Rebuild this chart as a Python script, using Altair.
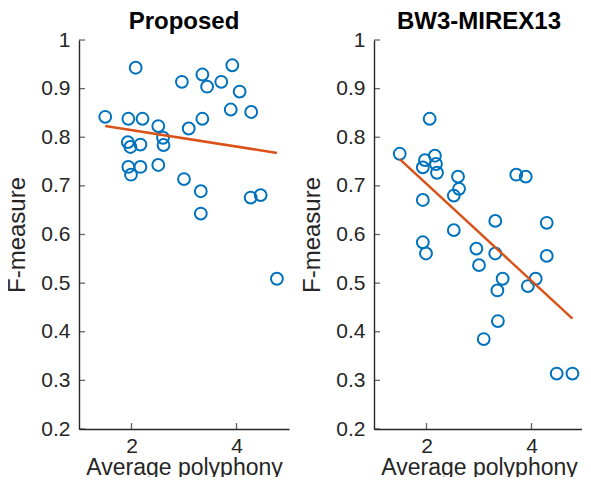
import altair as alt
import pandas as pd

# Proposed panel
prop_x = [1.50, 2.08, 1.94, 2.21, 2.51, 2.60, 2.61, 1.93, 1.98, 2.17,
          1.94, 1.99, 2.17, 2.51, 2.96, 3.09, 3.35, 3.35, 3.44, 3.71,
          3.92, 4.06, 3.89, 4.28, 3.00, 3.32, 3.32, 4.27, 4.46, 4.77]
prop_y = [0.842, 0.943, 0.838, 0.838, 0.823, 0.799, 0.784, 0.790, 0.780, 0.785,
          0.739, 0.723, 0.739, 0.743, 0.914, 0.818, 0.838, 0.929, 0.904, 0.914,
          0.948, 0.894, 0.857, 0.852, 0.714, 0.689, 0.643, 0.676, 0.681, 0.509]

# BW3-MIREX13 panel
bw_x = [1.49, 2.06, 1.97, 2.16, 1.93, 2.18, 2.20, 2.60, 2.62, 2.52,
        1.93, 3.71, 3.89, 3.31, 4.29, 2.52, 1.93, 1.99, 2.95, 3.00,
        3.31, 3.45, 3.35, 3.93, 4.08, 4.29, 3.36, 3.09, 4.48, 4.78]
bw_y = [0.766, 0.838, 0.753, 0.762, 0.738, 0.745, 0.727, 0.719, 0.694, 0.680,
        0.671, 0.723, 0.719, 0.628, 0.624, 0.609, 0.584, 0.561, 0.571, 0.537,
        0.561, 0.509, 0.485, 0.494, 0.509, 0.556, 0.422, 0.385, 0.314, 0.314]

titles = ["Proposed", "BW3-MIREX13"]
x_ticks = [2, 4]
y_ticks = [0.2, 0.3, 0.4, 0.5, 0.6, 0.7, 0.8, 0.9, 1.0]
x_domain = [1, 5]
y_domain = [0.2, 1]

FONT = "Liberation Sans"
AXC = "#262626"


def panel(xs, ys, title):
    df = pd.DataFrame({"x": xs, "y": ys})
    xsc = alt.Scale(domain=x_domain, nice=False, zero=False)
    ysc = alt.Scale(domain=y_domain, nice=False, zero=False)
    xax = alt.Axis(values=x_ticks, ticks=False, grid=False, domainColor=AXC,
                   domainWidth=1.4, labelFontSize=21, labelColor=AXC,
                   labelFont=FONT, labelPadding=6, titleFontSize=23,
                   titleFont=FONT, titleColor=AXC, titleFontWeight="normal",
                   titlePadding=0, format="d")
    yax = alt.Axis(values=y_ticks, ticks=False, grid=False, domainColor=AXC,
                   domainWidth=1.4, labelFontSize=21, labelColor=AXC,
                   labelFont=FONT, labelPadding=9, titleFontSize=24,
                   titleFont=FONT, titleColor=AXC, titleFontWeight="normal",
                   titlePadding=11, labelExpr="datum.value == 1 ? '1' : format(datum.value, '.1f')")
    base = alt.Chart(df)
    pts = base.mark_point(shape="circle", filled=False, size=140, strokeWidth=2,
                          color="#0072BD", opacity=1).encode(
        x=alt.X("x:Q", scale=xsc, axis=xax, title="Average polyphony"),
        y=alt.Y("y:Q", scale=ysc, axis=yax, title="F-measure"),
    )
    reg = base.transform_regression("x", "y").mark_line(
        color="#D95319", strokeWidth=2.5).encode(x="x:Q", y="y:Q")
    xt = alt.Chart(pd.DataFrame({"t": x_ticks})).mark_tick(
        orient="vertical", size=6, thickness=1.3, yOffset=-3, color=AXC).encode(
        x="t:Q", y=alt.datum(y_domain[0]))
    yt = alt.Chart(pd.DataFrame({"t": y_ticks})).mark_tick(
        orient="horizontal", size=6, thickness=1.3, xOffset=3, color=AXC).encode(
        y="t:Q", x=alt.datum(x_domain[0]))
    return alt.layer(pts, reg, xt, yt).properties(
        width=210, height=389,
        title=alt.TitleParams(title, fontSize=24, font=FONT, fontWeight="bold",
                              color="#000000", offset=-5),
    )


chart = alt.hconcat(
    panel(prop_x, prop_y, titles[0]),
    panel(bw_x, bw_y, titles[1]),
    spacing=11,
).configure_view(stroke=None).properties(
    padding={"left": -3, "top": 2, "right": -2, "bottom": -2})

chart.save("out.html", embed_options={"renderer": "svg", "actions": False})
